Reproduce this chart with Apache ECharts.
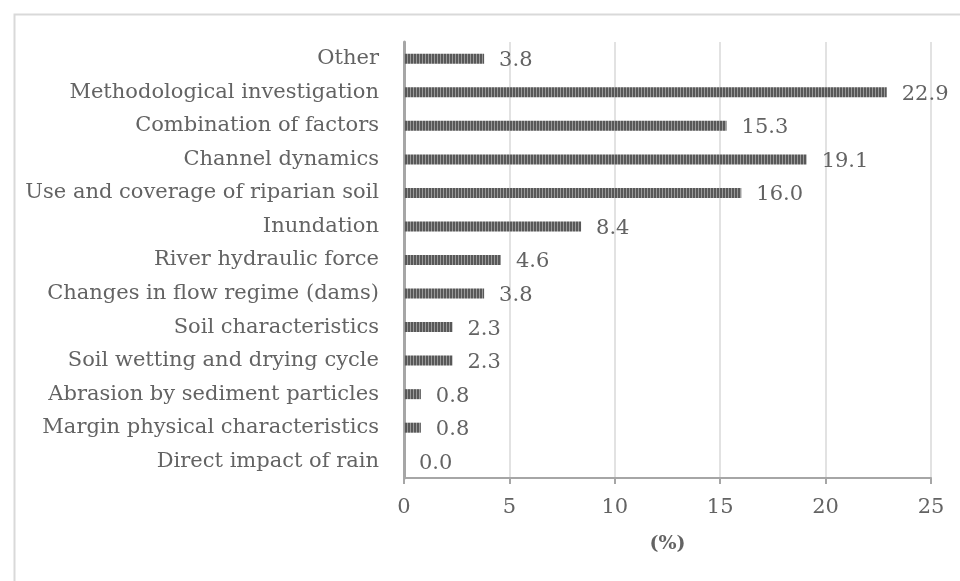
<!DOCTYPE html>
<html>
<head>
<meta charset="utf-8">
<script src="https://cdn.jsdelivr.net/npm/echarts@6/dist/echarts.min.js"></script>
<style>
  html, body { margin: 0; padding: 0; background: #fff; }
  #chart { width: 960px; height: 581px; }
</style>
</head>
<body>
<div id="chart"></div>
<script>
// categories, top to bottom
const categories = [
  'Other',
  'Methodological investigation',
  'Combination of factors',
  'Channel dynamics',
  'Use and coverage of riparian soil',
  'Inundation',
  'River hydraulic force',
  'Changes in flow regime (dams)',
  'Soil characteristics',
  'Soil wetting and drying cycle',
  'Abrasion by sediment particles',
  'Margin physical characteristics',
  'Direct impact of rain'
];
const percents = [3.8, 22.9, 15.3, 19.1, 16.0, 8.4, 4.6, 3.8, 2.3, 2.3, 0.8, 0.8, 0.0];
const xTicks = [0, 5, 10, 15, 20, 25];

const font = 'DejaVu Serif';
const textColor = '#636363';

// vertical stripe fill for the bars
function stripes() {
  const c = document.createElement('canvas');
  c.width = 3; c.height = 4;
  const ctx = c.getContext('2d');
  ctx.fillStyle = '#585858';
  ctx.fillRect(0, 0, 2, 4);
  ctx.fillStyle = '#9a9a9a';
  ctx.fillRect(2, 0, 1, 4);
  return c;
}

const chart = echarts.init(document.getElementById('chart'));
chart.setOption({
  animation: false,
  backgroundColor: '#fff',
  graphic: [{
    type: 'rect',
    left: 12, top: 12,
    shape: { width: 1000, height: 1000 },
    style: { fill: 'none', stroke: '#d9d9d9', lineWidth: 2 },
    silent: true
  }],
  grid: { left: 404, right: 29, top: 42, bottom: 103 },
  xAxis: {
    type: 'value',
    min: xTicks[0],
    max: xTicks[xTicks.length - 1],
    interval: 5,
    name: '(%)',
    nameLocation: 'middle',
    nameGap: 57,
    nameTextStyle: { fontFamily: font, fontSize: 19, fontWeight: 'bold', color: textColor },
    axisLine: { show: true, lineStyle: { color: '#a6a6a6', width: 2 } },
    axisTick: { show: true, length: 6, lineStyle: { color: '#a6a6a6', width: 2 } },
    axisLabel: { margin: 19, fontFamily: font, fontSize: 21, color: textColor },
    splitLine: { show: true, lineStyle: { color: '#d9d9d9', width: 1.5 } }
  },
  yAxis: {
    type: 'category',
    data: categories,
    inverse: true,
    axisLine: { show: true, lineStyle: { color: '#a6a6a6', width: 3 } },
    axisTick: { show: false },
    axisLabel: { margin: 25, fontFamily: font, fontSize: 21, color: textColor },
    splitLine: { show: false }
  },
  series: [{
    type: 'bar',
    data: percents,
    barWidth: 10,
    itemStyle: { color: { image: stripes(), repeat: 'repeat' } },
    label: {
      show: true,
      position: 'right',
      distance: 15,
      offset: [0, 2],
      fontFamily: font,
      fontSize: 21,
      color: textColor,
      formatter: p => p.value.toFixed(1)
    }
  }]
});
</script>
</body>
</html>
